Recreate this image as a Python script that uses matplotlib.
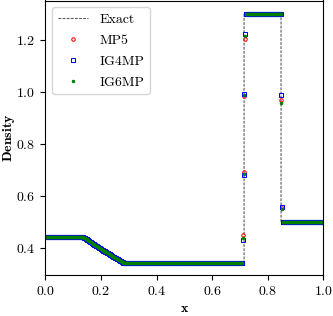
import numpy as np
import matplotlib
matplotlib.use("Agg")
import matplotlib.pyplot as plt

plt.rcParams['font.family'] = 'serif'
plt.rcParams['font.serif'] = ['cmr10']
plt.rcParams['mathtext.fontset'] = 'cm'
plt.rcParams['axes.formatter.use_mathtext'] = True
plt.rcParams['font.size'] = 10

# exact solution
x_exact = [0.0, 0.134, 0.17, 0.207, 0.244, 0.28, 0.715, 0.715, 0.848, 0.848, 1.0]
rho_exact = [0.445, 0.445, 0.418, 0.3925, 0.368, 0.345, 0.345, 1.304, 1.304, 0.5, 0.5]

# numerical solutions, 400 cells
n_cells = 400
rho_left = 0.445
rho_mid = 0.345
rho_top = 1.30
rho_right = 0.50
n_left, n_mid, n_top, n_right = 54, 172, 51, 59
rarefaction = [
    0.443, 0.441, 0.440, 0.438, 0.436, 0.434, 0.432, 0.430, 0.428, 0.427,
    0.425, 0.423, 0.421, 0.419, 0.418, 0.416, 0.414, 0.412, 0.410, 0.409,
    0.407, 0.405, 0.403, 0.402, 0.400, 0.398, 0.396, 0.395, 0.393, 0.391,
    0.390, 0.388, 0.386, 0.385, 0.383, 0.381, 0.380, 0.378, 0.376, 0.375,
    0.373, 0.371, 0.370, 0.368, 0.366, 0.365, 0.363, 0.362, 0.360, 0.358,
    0.357, 0.355, 0.354, 0.352, 0.351, 0.349, 0.347, 0.346,
]
# cells across the contact and the shock, per scheme
contact_mp5 = [0.450, 0.692, 0.985, 1.205]
contact_ig4 = [0.433, 0.680, 0.993, 1.222]
contact_ig6 = [0.441, 0.686, 0.990, 1.214]
shock_mp5 = [0.969, 0.553]
shock_ig4 = [0.988, 0.560]
shock_ig6 = [0.957, 0.550]


def build(contact, shock):
    return np.array([rho_left] * n_left + rarefaction + [rho_mid] * n_mid + contact
                    + [rho_top] * n_top + shock + [rho_right] * n_right)


x = (np.arange(n_cells) + 0.5) / n_cells

fig = plt.figure(figsize=(3.33, 3.16), dpi=100)
ax = fig.add_axes([45.3 / 333, 41 / 316, 278 / 333, 274.5 / 316])

ax.plot(x_exact, rho_exact, '--', color='0.35', lw=0.8, dashes=(2.5, 1.2), label='Exact', zorder=1)
ax.plot(x, build(contact_mp5, shock_mp5), 'o', ls='none', mfc='none', mec='r', ms=2.5, mew=0.75, label='MP5')
ax.plot(x, build(contact_ig4, shock_ig4), 's', ls='none', mfc='none', mec='b', ms=2.4, mew=0.75, label='IG4MP')
ax.plot(x, build(contact_ig6, shock_ig6), 'o', ls='none', color='g', mec='none', ms=2.5, label='IG6MP')

ax.set_xlim(0, 1)
ax.set_xticks([0.0, 0.2, 0.4, 0.6, 0.8, 1.0])
ax.set_yticks([0.4, 0.6, 0.8, 1.0, 1.2])
ax.set_xlabel(r'$\mathbf{x}$')
ax.set_ylabel(r'$\mathbf{Density}$')
ax.yaxis.set_label_coords(-0.1, 0.5)
ax.legend(loc='upper left', labelspacing=0.6, handlelength=2.2)

fig.savefig('out.png', dpi=100)
